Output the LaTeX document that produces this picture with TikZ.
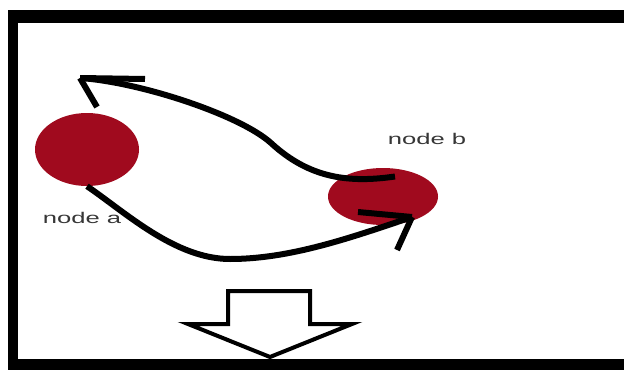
\documentclass[tikz,border=0pt]{standalone}
\usepackage{fontspec}
\setmainfont{Liberation Sans}
\usetikzlibrary{calc,shapes.geometric}
\definecolor{blobred}{RGB}{160,10,30}
\definecolor{txtgray}{RGB}{55,55,55}
\tikzset{
  blob/.style={ellipse,fill=blobred,draw=none,inner sep=0pt},
  crv/.style ={line width=6pt,line join=round},
  lbl/.style ={font=\fontsize{15.5}{17}\selectfont,text=txtgray,xscale=1.65,inner sep=0pt},
  bigar/.style={line width=4pt,line join=miter,fill=white},
}

\begin{document}
\begin{tikzpicture}[x=1pt,y=-1pt]
  \useasboundingbox (0,0) rectangle (624,370);
  \fill[white] (0,0) rectangle (624,370);
  \fill[black] (8,10) rectangle (624,370);
  \fill[white] (18,23) rectangle (624,359);

  \node[blob,minimum width=104pt,minimum height=73pt] (a) at (87,149.5){};
  \node[blob,minimum width=110pt,minimum height=57pt] (b) at (383,196.5){};
  \node[lbl] (la) at (82,218){node a};
  \node[lbl] (lb) at (427,139){node b};

  \coordinate (ub) at ($(b.center)+(12,-20)$);
  \coordinate (ta) at (80,78);
  \coordinate (tb) at (412,217);

  \draw[crv] (ub) .. controls (350,183) and (310,179) .. (271,143)
                  .. controls (240,115) and (140,82) .. (ta);
  \draw[crv] (ta) -- ++(65,1);
  \draw[crv] (ta) -- ++(17,29);

  \draw[crv] (a.south) .. controls (125,212) and (175,259) .. (230,259)
                       .. controls (290,259) and (350,238) .. (tb);
  \draw[crv] (tb) -- ++(-54,-5);
  \draw[crv] (tb) -- ++(-15,33);

  \draw[bigar] (228,291) -- (310,291) -- (310,324) -- (352,324)
               -- (270,357) -- (188,324) -- (228,324) -- cycle;
\end{tikzpicture}
\end{document}
